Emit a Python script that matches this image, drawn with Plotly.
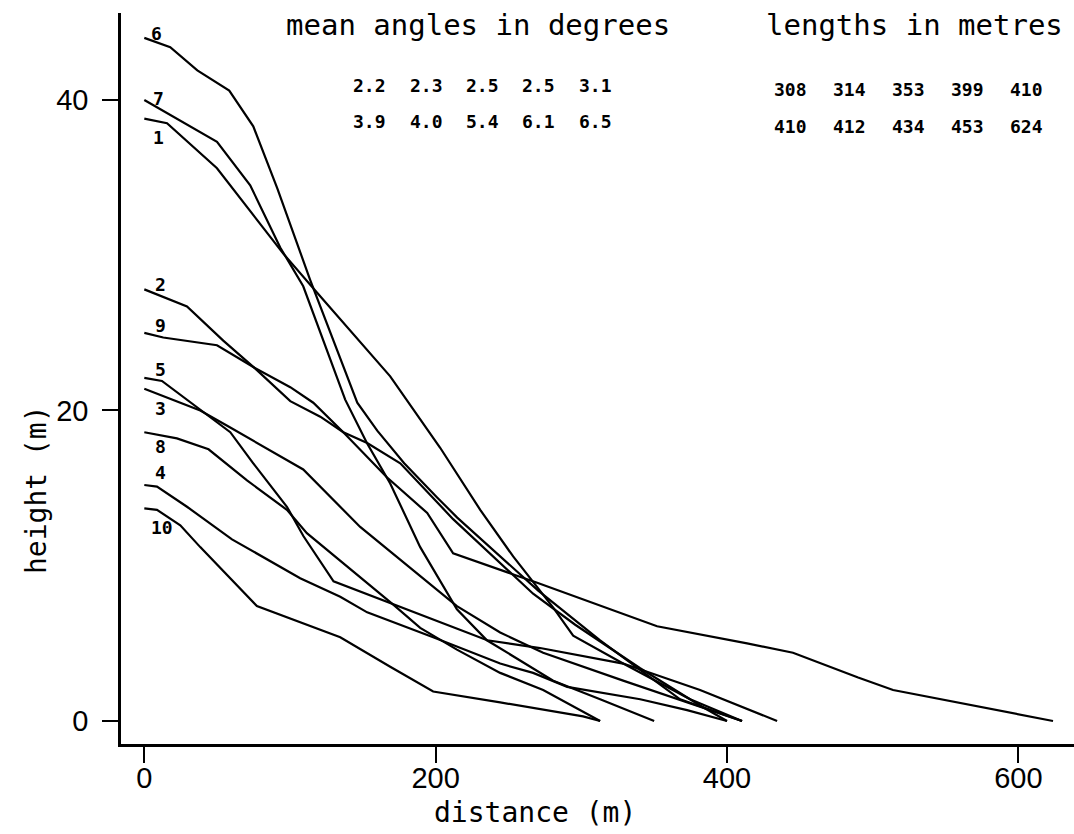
import plotly.graph_objects as go

# ---- data (distance m, height m) ----
dist_6 = [0, 17.8, 36.4, 58.3, 74.8, 91.3, 113.9, 146.2, 159.9, 178.4, 201.0, 214.8, 270.4, 312.9, 367.8, 410.3]
height_6 = [44.0, 43.4, 41.9, 40.6, 38.3, 34.3, 28.4, 20.5, 18.7, 16.6, 14.4, 13.1, 8.4, 5.2, 1.4, 0]

dist_7 = [0, 38.4, 49.9, 72.7, 93.3, 109.1, 137.9, 152.8, 168.8, 189.4, 214.6, 235.2, 280.7, 312.9, 350.0]
height_7 = [40.0, 37.9, 37.3, 34.5, 30.5, 28.0, 20.7, 17.9, 15.3, 11.2, 7.2, 5.2, 2.6, 1.4, 0]

dist_1 = [0, 15.6, 49.9, 95.4, 118.5, 168.8, 203.1, 230.6, 253.2, 280.7, 294.4, 328.7, 374.7, 410.3]
height_1 = [38.8, 38.5, 35.6, 30.1, 27.6, 22.2, 17.6, 13.6, 10.6, 7.3, 5.5, 3.7, 1.4, 0]

dist_2 = [0, 29.3, 54.2, 77.3, 100.2, 120.8, 136.6, 153.0, 175.7, 198.3, 212.0, 266.9, 295.8, 340.4, 381.5, 400.0]
height_2 = [27.8, 26.7, 24.5, 22.6, 20.6, 19.6, 18.6, 17.9, 16.6, 14.4, 13.0, 8.2, 6.2, 3.4, 1.0, 0]

dist_9 = [0, 13.0, 49.9, 74.8, 100.2, 116.0, 136.6, 166.5, 194.2, 212.0, 269.7, 352.0, 413.8, 445.3, 490.0, 514.0, 623.8]
height_9 = [25.0, 24.7, 24.2, 22.8, 21.5, 20.5, 18.6, 15.7, 13.4, 10.8, 8.9, 6.1, 5.0, 4.4, 2.8, 2.0, 0]

dist_5 = [0, 12.1, 59.0, 74.8, 97.9, 109.3, 129.9, 171.1, 235.4, 271.7, 328.7, 381.5, 434.4]
height_5 = [22.1, 21.9, 18.6, 16.6, 13.8, 11.9, 9.0, 7.5, 5.2, 4.7, 3.7, 2.0, 0]

dist_3 = [0, 38.4, 59.0, 109.1, 148.2, 214.6, 244.3, 273.8, 328.7, 410.3]
height_3 = [21.4, 20.0, 18.9, 16.2, 12.5, 7.4, 5.7, 4.4, 2.6, 0]

dist_8 = [0, 22.4, 44.1, 70.5, 97.9, 111.6, 170.9, 189.4, 214.6, 244.3, 273.8, 312.9]
height_8 = [18.6, 18.2, 17.5, 15.5, 13.6, 12.1, 7.5, 6.0, 4.6, 3.1, 2.0, 0]

dist_4 = [0, 8.7, 29.3, 60.2, 107.0, 134.5, 153.0, 198.3, 244.3, 266.9, 290.3, 340.4, 372.6, 400.0]
height_4 = [15.2, 15.1, 13.8, 11.7, 9.2, 8.0, 7.0, 5.4, 3.7, 3.1, 2.2, 1.4, 0.7, 0]

dist_10 = [0, 8.7, 24.7, 38.4, 77.3, 134.5, 168.8, 198.3, 244.3, 301.2, 312.9]
height_10 = [13.7, 13.6, 12.6, 11.2, 7.4, 5.4, 3.5, 1.9, 1.2, 0.3, 0]

curve_names = ["6", "7", "1", "2", "9", "5", "3", "8", "4", "10"]
curve_dists = [dist_6, dist_7, dist_1, dist_2, dist_9, dist_5, dist_3, dist_8, dist_4, dist_10]
curve_heights = [height_6, height_7, height_1, height_2, height_9, height_5, height_3, height_8, height_4, height_10]

# curve number labels (data coordinates)
label_names = ["6", "7", "1", "2", "9", "5", "3", "8", "4", "10"]
label_x = [8.7, 9.8, 9.8, 11, 11, 11, 11, 11, 11, 12.4]
label_y = [44.3, 40.1, 37.6, 28.1, 25.5, 22.65, 20.1, 17.7, 16.0, 12.45]

# tables
angles_row1 = ["2.2", "2.3", "2.5", "2.5", "3.1"]
angles_row2 = ["3.9", "4.0", "5.4", "6.1", "6.5"]
lengths_row1 = ["308", "314", "353", "399", "410"]
lengths_row2 = ["410", "412", "434", "453", "624"]

x_ticks = [0, 200, 400, 600]
y_ticks = [0, 20, 40]

# ---- layout geometry (pixels) ----
W, H = 1074, 834
ML, MR, MT, MB = 121, 0, 13, 90
PW = W - ML - MR
PH = H - MT - MB


def px(x):
    return (x - ML) / PW


def py(y):
    return (MT + PH - y) / PH


fig = go.Figure()
for name, xs, ys in zip(curve_names, curve_dists, curve_heights):
    fig.add_trace(go.Scatter(x=xs, y=ys, mode="lines", name=name,
                             line=dict(color="black", width=2.2), showlegend=False,
                             hoverinfo="skip"))

annotations = []
lab_font = dict(family="DejaVu Sans Mono, monospace", size=18, color="black", weight="bold")
for t, x, y in zip(label_names, label_x, label_y):
    annotations.append(dict(x=x, y=y, xref="x", yref="y", text=t, showarrow=False,
                            font=lab_font, xanchor="center", yanchor="middle"))

tab_font = dict(family="DejaVu Sans Mono, monospace", size=18, color="black", weight="bold")
angle_cols = [369, 426, 482, 538, 595]
length_cols = [790, 849, 908, 967, 1026]
for row, yy in ((angles_row1, 85), (angles_row2, 122)):
    for t, xx in zip(row, angle_cols):
        annotations.append(dict(x=px(xx), y=py(yy), xref="paper", yref="paper", text=t,
                                showarrow=False, font=tab_font, xanchor="center", yanchor="middle"))
for row, yy in ((lengths_row1, 89), (lengths_row2, 127)):
    for t, xx in zip(row, length_cols):
        annotations.append(dict(x=px(xx), y=py(yy), xref="paper", yref="paper", text=t,
                                showarrow=False, font=tab_font, xanchor="center", yanchor="middle"))

mono = dict(family="DejaVu Sans Mono, monospace", size=29, color="black")
annotations.append(dict(x=px(478), y=py(25), xref="paper", yref="paper", text="mean angles in degrees",
                        showarrow=False, font=mono, xanchor="center", yanchor="middle"))
annotations.append(dict(x=px(914), y=py(25), xref="paper", yref="paper", text="lengths in metres",
                        showarrow=False, font=mono, xanchor="center", yanchor="middle"))
axis_font = dict(family="DejaVu Sans Mono, monospace", size=28, color="black")
annotations.append(dict(x=px(535), y=py(812), xref="paper", yref="paper", text="distance (m)",
                        showarrow=False, font=axis_font, xanchor="center", yanchor="middle"))
annotations.append(dict(x=px(36), y=py(490), xref="paper", yref="paper", text="height (m)",
                        showarrow=False, font=axis_font, textangle=-90, xanchor="center", yanchor="middle"))

tick_font = dict(family="Liberation Sans, Arial", size=29, color="black")
fig.update_layout(
    width=W, height=H,
    margin=dict(l=ML, r=MR, t=MT, b=MB),
    paper_bgcolor="white", plot_bgcolor="white",
    xaxis=dict(range=[-16.0, 638.2], tickvals=x_ticks, ticks="outside", ticklen=16, tickwidth=2,
               tickcolor="black", showline=True, linecolor="black", linewidth=2.5, mirror=False,
               showgrid=False, zeroline=False, tickfont=tick_font, ticklabelstandoff=-10),
    yaxis=dict(range=[-1.48, 45.6], tickvals=y_ticks, ticks="outside", ticklen=16, tickwidth=2,
               tickcolor="black", showline=True, linecolor="black", linewidth=2.5, mirror=False,
               showgrid=False, zeroline=False, tickfont=tick_font, ticklabelstandoff=8),
    annotations=annotations,
)

fig.write_html("out.html")
